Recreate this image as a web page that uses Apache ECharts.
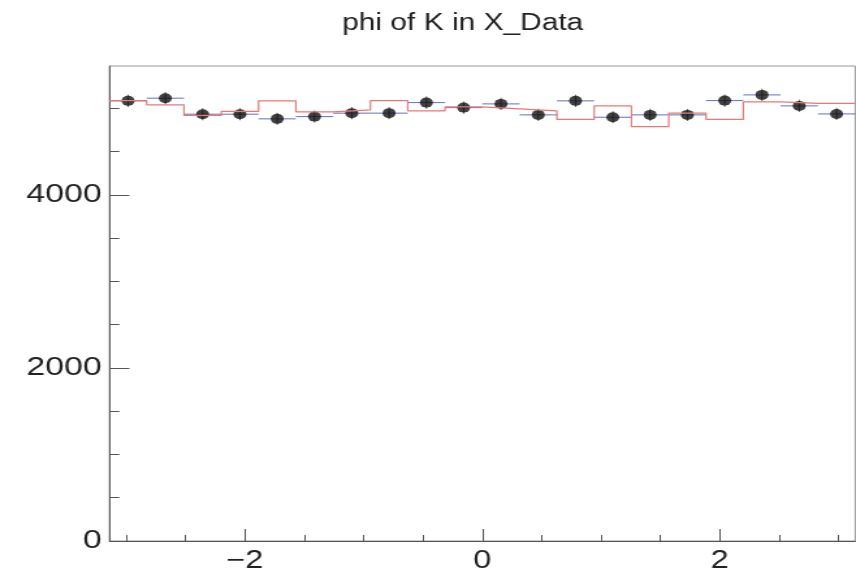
<!DOCTYPE html>
<html><head><meta charset="utf-8">
<script src="https://cdn.jsdelivr.net/npm/echarts@6/dist/echarts.min.js"></script>
<style>
html,body{margin:0;padding:0;background:#fff;overflow:hidden;}
#c{width:658px;height:572px;transform:scaleX(1.3009);transform-origin:0 0;}
</style>
</head><body><div id="c"></div>
<script>
const titleText = 'phi of K in X_Data';
const nBins = 20;
const xMin = -Math.PI, xMax = Math.PI;
const yMin = 0, yMax = 5490;
// black data points (bin contents)
const dataCounts = [5087,5118,4933,4933,4879,4905,4945,4945,5067,5009,5052,4925,5087,4898,4925,4925,5090,5156,5029,4936];
// red reference histogram
const refCounts = [5090,5040,4919,4965,5087,4960,4983,5090,4971,5017,4994,4971,4873,5029,4790,4945,4873,5075,5058,5058];
const xMajorTicks = [-2,0,2];
const xMinorTicks = [-3,-2.5,-2,-1.5,-1,-0.5,0,0.5,1,1.5,2,2.5,3];
const yMajorTicks = [0,2000,4000];
const yMinorTicks = [500,1000,1500,2000,2500,3000,3500,4000,4500,5000];

const binW = (xMax - xMin) / nBins;
const edges = [];
for (let i = 0; i <= nBins; i++) edges.push(xMin + i * binW);
const stepData = refCounts.map((v, i) => [edges[i], v]).concat([[edges[nBins], refCounts[nBins - 1]]]);
const pointData = dataCounts.map((v, i) => [(edges[i] + edges[i + 1]) / 2, v]);
const errData = dataCounts.map((v, i) => [(edges[i] + edges[i + 1]) / 2, v, edges[i], edges[i + 1], Math.sqrt(v)]);

const font = 'Liberation Sans, Arial, Helvetica, sans-serif';
const fmt = v => (v < 0 ? '\u2212' + Math.abs(v) : String(v));
const axisLineStyle = { color: '#555', width: 1 };

const chart = echarts.init(document.getElementById('c'), null, { renderer: 'canvas' });
chart.setOption({
  animation: false,
  backgroundColor: '#fff',
  title: {
    text: titleText, left: 258, top: 7,
    textStyle: { fontFamily: font, fontSize: 23, fontWeight: 'normal', color: '#222' }
  },
  grid: { left: 84.1, right: 0.6, top: 66, bottom: 31, outerBoundsMode: 'none', containLabel: false, show: true, borderColor: '#999', borderWidth: 1, backgroundColor: 'transparent' },
  xAxis: [
    {
      type: 'value', min: xMin, max: xMax, position: 'bottom',
      axisLine: { show: true, onZero: false, lineStyle: axisLineStyle },
      axisTick: { show: true, inside: true, length: 12, lineStyle: axisLineStyle, customValues: xMajorTicks },
      axisLabel: { show: true, margin: 8, fontFamily: font, fontSize: 25, color: '#222', customValues: xMajorTicks, formatter: fmt },
      splitLine: { show: false }
    },
    {
      type: 'value', min: xMin, max: xMax, position: 'bottom',
      axisLine: { show: false, onZero: false },
      axisTick: { show: true, inside: true, length: 6, lineStyle: axisLineStyle, customValues: xMinorTicks },
      axisLabel: { show: false },
      splitLine: { show: false }
    }
  ],
  yAxis: [
    {
      type: 'value', min: yMin, max: yMax, position: 'left',
      axisLine: { show: true, onZero: false, lineStyle: axisLineStyle },
      axisTick: { show: true, inside: true, length: 15.4, lineStyle: axisLineStyle, customValues: yMajorTicks },
      axisLabel: { show: true, margin: 6, fontFamily: font, fontSize: 26, color: '#222', customValues: yMajorTicks, formatter: fmt },
      splitLine: { show: false }
    },
    {
      type: 'value', min: yMin, max: yMax, position: 'left',
      axisLine: { show: false, onZero: false },
      axisTick: { show: true, inside: true, length: 7.7, lineStyle: axisLineStyle, customValues: yMinorTicks },
      axisLabel: { show: false },
      splitLine: { show: false }
    }
  ],
  series: [
    {
      type: 'custom', xAxisIndex: 0, yAxisIndex: 0, z: 3,
      encode: { x: 0, y: 1 },
      data: errData,
      renderItem: function (params, api) {
        const v = api.value(1), lo = api.value(2), hi = api.value(3), e = api.value(4), c = api.value(0);
        const pL = api.coord([lo, v]), pR = api.coord([hi, v]);
        const pB = api.coord([c, v - e]), pT = api.coord([c, v + e]);
        return {
          type: 'group',
          children: [
            { type: 'line', shape: { x1: pL[0], y1: pL[1], x2: pR[0], y2: pR[1] }, style: { stroke: '#6070c0', lineWidth: 1 } },
            { type: 'line', shape: { x1: pB[0], y1: pB[1], x2: pT[0], y2: pT[1] }, style: { stroke: '#333', lineWidth: 0.8 } }
          ]
        };
      }
    },
    {
      type: 'scatter', xAxisIndex: 0, yAxisIndex: 0, z: 4,
      data: pointData, symbol: 'circle', symbolSize: 10,
      itemStyle: { color: '#111' }
    },
    {
      type: 'line', xAxisIndex: 0, yAxisIndex: 0, z: 5,
      data: stepData, step: 'end', showSymbol: false, symbol: 'none',
      lineStyle: { color: '#e87878', width: 1.2 }
    }
  ]
});
</script>
</body></html>
